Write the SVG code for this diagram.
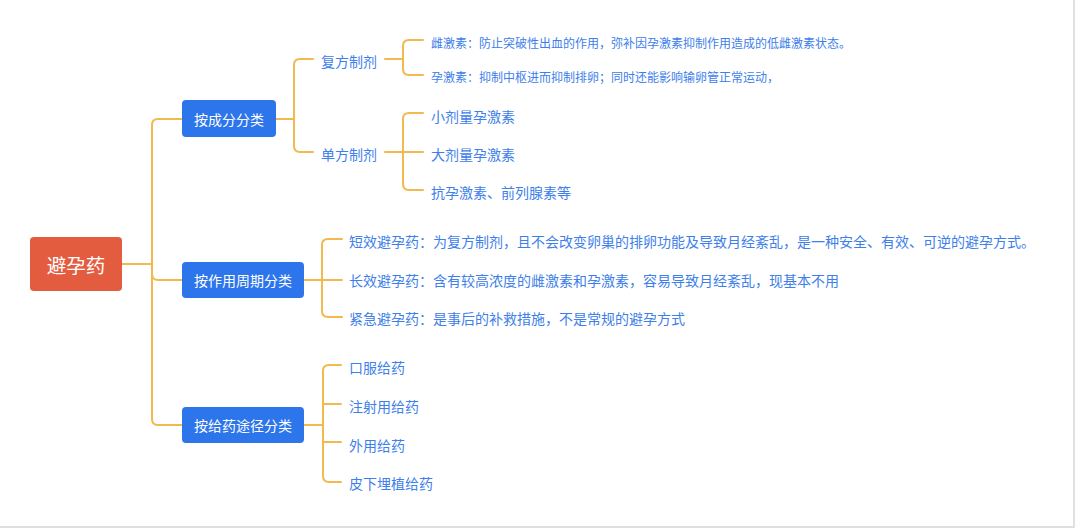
<svg xmlns="http://www.w3.org/2000/svg" width="1080" height="531" viewBox="0 0 1080 531">
<style>
.ln{fill:none;stroke:#f2b94f;stroke-width:2;stroke-linecap:round}
.t{font-family:"Noto Sans CJK SC","Noto Sans",sans-serif;dominant-baseline:central}
.l2{fill:#3d80ea;font-size:14px}
.l3{fill:#3d80ea;font-size:14px}
.sm{fill:#3d80ea;font-size:12px}
.bx{fill:#2c75ea}
.bt{fill:#ffffff;font-size:14px;text-anchor:middle}
</style>
<rect width="1080" height="531" fill="#ffffff"/>
<path d="M1074,0 V527 H0" fill="none" stroke="#d6d6d6" stroke-width="1.5"/>
<g id="connectors">
<path class="ln" d="M122,264 H152"/>
<path class="ln" d="M152,264 V125 Q152,119 158,119 H182"/>
<path class="ln" d="M152,264 V419 Q152,425 158,425 H182"/>
<path class="ln" d="M152,274 Q152,280 158,280 H182"/>
<path class="ln" d="M276,119 H294"/>
<path class="ln" d="M294,119 V65 Q294,59 300,59 H313"/>
<path class="ln" d="M294,119 V146 Q294,152 300,152 H313"/>
<path class="ln" d="M385,59 H403"/>
<path class="ln" d="M403,59 V46 Q403,40 409,40 H423"/>
<path class="ln" d="M403,59 V69 Q403,75 409,75 H423"/>
<path class="ln" d="M385,152 H423"/>
<path class="ln" d="M403,152 V119 Q403,113 409,113 H423"/>
<path class="ln" d="M403,152 V184 Q403,190 409,190 H423"/>
<path class="ln" d="M304,280 H342"/>
<path class="ln" d="M322,280 V245 Q322,239 328,239 H342"/>
<path class="ln" d="M322,280 V311 Q322,317 328,317 H342"/>
<path class="ln" d="M304,425 H323"/>
<path class="ln" d="M323,425 V371 Q323,365 329,365 H341"/>
<path class="ln" d="M323,425 V476 Q323,482 329,482 H341"/>
<path class="ln" d="M323,404 H341"/>
<path class="ln" d="M323,442 H341"/>
</g>
<g id="root">
<rect x="30" y="237" width="92" height="54" rx="4" fill="#e35c3f"/>
<text class="t" x="76" y="264" fill="#ffffff" font-size="19.5" text-anchor="middle">避孕药</text>
</g>
<g id="n-chengfen">
<rect class="bx" x="182" y="100" width="94" height="37" rx="4"/>
<text class="t bt" x="229" y="118.5">按成分分类</text>
</g>
<g id="n-zhouqi">
<rect class="bx" x="182" y="262" width="122" height="36" rx="4"/>
<text class="t bt" x="243" y="279.5">按作用周期分类</text>
</g>
<g id="n-tujing">
<rect class="bx" x="182" y="407" width="122" height="36" rx="4"/>
<text class="t bt" x="243" y="424.5">按给药途径分类</text>
</g>
<g id="n-fufang"><text class="t l2" x="321" y="60.5">复方制剂</text></g>
<g id="n-danfang"><text class="t l2" x="321" y="153.5">单方制剂</text></g>
<g id="n-ci"><text class="t sm" x="431" y="42.5">雌激素：防止突破性出血的作用，弥补因孕激素抑制作用造成的低雌激素状态。</text></g>
<g id="n-yun"><text class="t sm" x="431" y="76.5">孕激素：抑制中枢进而抑制排卵；同时还能影响输卵管正常运动，</text></g>
<g id="n-xiao"><text class="t l2" x="431" y="115.5">小剂量孕激素</text></g>
<g id="n-da"><text class="t l2" x="431" y="153.5">大剂量孕激素</text></g>
<g id="n-kang"><text class="t l2" x="431" y="191.5">抗孕激素、前列腺素等</text></g>
<g id="n-duan"><text class="t l3" x="349" y="240.5">短效避孕药：为复方制剂，且不会改变卵巢的排卵功能及导致月经紊乱，是一种安全、有效、可逆的避孕方式。</text></g>
<g id="n-chang"><text class="t l3" x="349" y="280">长效避孕药：含有较高浓度的雌激素和孕激素，容易导致月经紊乱，现基本不用</text></g>
<g id="n-jinji"><text class="t l3" x="349" y="318">紧急避孕药：是事后的补救措施，不是常规的避孕方式</text></g>
<g id="n-kou"><text class="t l3" x="349" y="366.5">口服给药</text></g>
<g id="n-zhu"><text class="t l3" x="349" y="405.5">注射用给药</text></g>
<g id="n-wai"><text class="t l3" x="349" y="444.5">外用给药</text></g>
<g id="n-pi"><text class="t l3" x="349" y="483">皮下埋植给药</text></g>
</svg>
